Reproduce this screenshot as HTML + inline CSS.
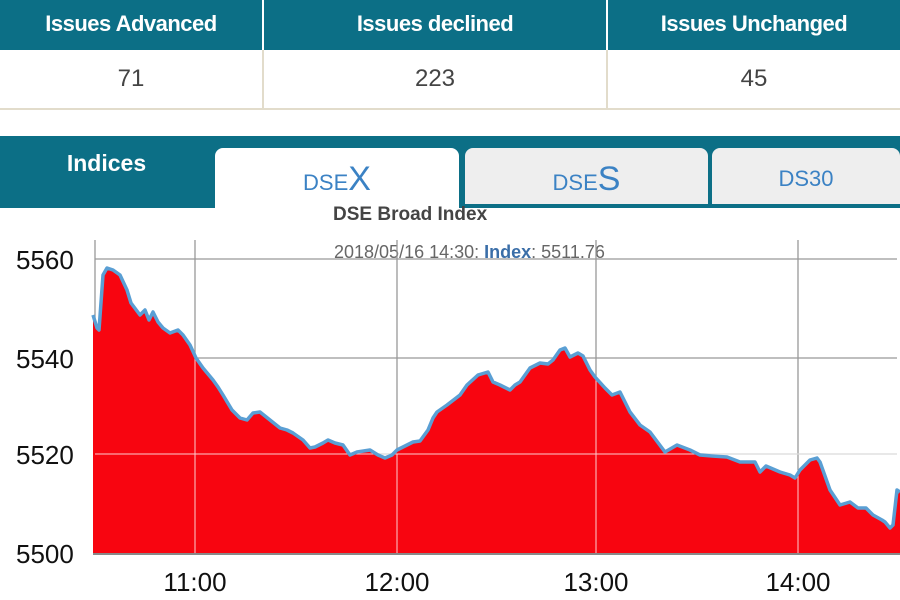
<!DOCTYPE html>
<html><head><meta charset="utf-8"><style>
body{margin:0;width:900px;height:600px;overflow:hidden;background:#fff;font-family:"Liberation Sans",sans-serif;position:relative}
.a{position:absolute}
.h{background:#0c6f86;color:#fff;font-weight:bold;font-size:22px;text-align:center;line-height:48px;top:0;height:50px;letter-spacing:-0.5px}
.c{top:50px;height:58px;line-height:58px;text-align:center;font-size:24px;color:#444;border-bottom:2px solid #e2dccb}
.tab{top:148px;height:60px;border-radius:8px 8px 0 0;text-align:center;line-height:62px;color:#3b82c4;font-size:22px}
</style></head><body>
<div class="a h" style="left:0;width:262px">Issues Advanced</div>
<div class="a h" style="left:264px;width:342px">Issues declined</div>
<div class="a h" style="left:608px;width:292px">Issues Unchanged</div>
<div class="a c" style="left:0;width:262px;border-right:2px solid #e2dccb">71</div>
<div class="a c" style="left:264px;width:342px;border-right:2px solid #e2dccb">223</div>
<div class="a c" style="left:608px;width:292px">45</div>
<div class="a" style="left:0;top:136px;width:900px;height:72px;background:#0c6f86"></div>
<div class="a" style="left:0;top:150px;width:213px;text-align:center;color:#fff;font-weight:bold;font-size:23px">Indices</div>
<div class="a tab" style="left:215px;width:244px;background:#fff;height:64px">DSE<span style="font-size:34px">X</span></div>
<div class="a tab" style="left:465px;width:243px;background:#eee;height:56px">DSE<span style="font-size:34px">S</span></div>
<div class="a tab" style="left:712px;width:188px;background:#eee;height:56px">DS30</div>
<div class="a" style="left:210px;top:208px;width:690px;height:392px;background:#fff"></div>
<div class="a" style="left:0;top:208px;width:900px;height:2px;background:#fff"></div>
<div class="a" style="left:333px;top:204px;font-weight:bold;font-size:19px;color:#444">DSE Broad Index</div>
<div class="a" style="left:334px;top:242px;font-size:18px;color:#666">2018/05/16 14:30: <b style="color:#3a6ea8">Index</b>: 5511.76</div>
<svg class="a" style="left:0;top:0" width="900" height="600">
<g stroke="#999" stroke-width="1.3">
<line x1="95" y1="259" x2="897" y2="259"/><line x1="95" y1="358" x2="897" y2="358"/><line x1="95" y1="454" x2="897" y2="454"/>
<line x1="195" y1="240" x2="195" y2="553"/><line x1="397" y1="240" x2="397" y2="553"/><line x1="596" y1="240" x2="596" y2="553"/><line x1="798" y1="240" x2="798" y2="553"/>
<line x1="95" y1="240" x2="95" y2="553"/>
</g>
<path fill="#f80510" d="M93,553 L93,315 97,328 99,330 103,275 107,268 113,270 120,275 127,290 131,303 140,315 145,310 149,320 153,312 158,322 163,328 170,333 178,330 183,335 190,345 196,358 203,368 213,380 218,387 223,395 232,410 240,418 247,420 253,413 260,412 270,420 280,428 287,430 293,433 303,440 310,448 315,447 323,443 328,440 335,443 343,445 350,455 357,452 370,450 378,455 385,458 392,455 397,450 405,446 413,442 420,441 428,430 433,418 437,412 447,405 460,395 467,385 478,375 488,372 493,382 500,385 510,390 515,385 520,382 530,368 540,363 548,364 553,360 560,350 565,348 570,357 578,353 583,356 590,370 595,377 605,388 612,395 620,392 630,412 640,425 650,432 656,440 665,452 677,445 690,450 700,455 712,456 727,457 740,462 755,462 760,472 766,466 780,472 790,475 795,478 800,470 810,460 817,458 820,462 830,490 840,505 850,502 858,508 866,508 873,515 882,520 885,522 890,528 893,525 897,490 900,492 L900,553 Z"/>
<g stroke="#fff" stroke-width="1" opacity="0.8"><line x1="95" y1="454" x2="897" y2="454"/><line x1="195" y1="358" x2="195" y2="553"/><line x1="397" y1="454" x2="397" y2="553"/><line x1="596" y1="377" x2="596" y2="553"/><line x1="798" y1="470" x2="798" y2="553"/></g>
<polyline fill="none" stroke="#5a9fd4" stroke-width="3.5" stroke-linejoin="round" points="93,315 97,328 99,330 103,275 107,268 113,270 120,275 127,290 131,303 140,315 145,310 149,320 153,312 158,322 163,328 170,333 178,330 183,335 190,345 196,358 203,368 213,380 218,387 223,395 232,410 240,418 247,420 253,413 260,412 270,420 280,428 287,430 293,433 303,440 310,448 315,447 323,443 328,440 335,443 343,445 350,455 357,452 370,450 378,455 385,458 392,455 397,450 405,446 413,442 420,441 428,430 433,418 437,412 447,405 460,395 467,385 478,375 488,372 493,382 500,385 510,390 515,385 520,382 530,368 540,363 548,364 553,360 560,350 565,348 570,357 578,353 583,356 590,370 595,377 605,388 612,395 620,392 630,412 640,425 650,432 656,440 665,452 677,445 690,450 700,455 712,456 727,457 740,462 755,462 760,472 766,466 780,472 790,475 795,478 800,470 810,460 817,458 820,462 830,490 840,505 850,502 858,508 866,508 873,515 882,520 885,522 890,528 893,525 897,490 900,492"/>
<line x1="93" y1="554" x2="900" y2="554" stroke="#888" stroke-width="2"/>
<g font-family="Liberation Sans,sans-serif" font-size="26" fill="#111">
<text x="16" y="269">5560</text><text x="16" y="368">5540</text><text x="16" y="464">5520</text><text x="16" y="563">5500</text>
<text x="195" y="591" text-anchor="middle">11:00</text><text x="397" y="591" text-anchor="middle">12:00</text><text x="596" y="591" text-anchor="middle">13:00</text><text x="798" y="591" text-anchor="middle">14:00</text>
</g>
</svg>
</body></html>
